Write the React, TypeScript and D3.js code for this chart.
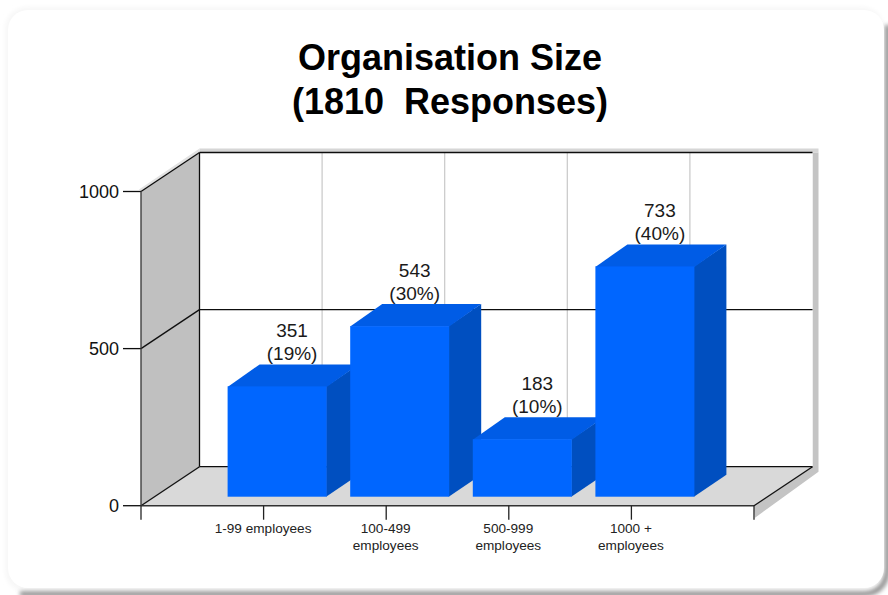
import React from "react";
import * as d3 from "d3";

const categories = [["1-99 employees"], ["100-499", "employees"], ["500-999", "employees"], ["1000 +", "employees"]];
const counts = [351, 543, 183, 733];
const percents = ["(19%)", "(30%)", "(10%)", "(40%)"];
const yTicks = [0, 500, 1000];
const slots = [0, 1, 2, 3, 4, 5];
const titleLines = ["Organisation Size", "(1810  Responses)"];

const W = 888, H = 595;
const x = d3.scaleLinear().domain([0, 5]).range([141, 754]);
const y = d3.scaleLinear().domain([0, 1000]).range([505.7, 191.5]);
const DX = 58.5, DY = -39;
const BAR_OX = 13.5, BAR_OY = -9, BAR_W = 99, BAR_DX = 32, BAR_DY = -22;
const font = "'Liberation Sans', Arial, sans-serif";
const poly = (p: number[][]) => (d3.line()(p as [number, number][]) ?? "") + "Z";

export default function App() {
  const x0 = x(0), x5 = x(5), y0 = y(0), yT = y(1000);
  return (
    <svg width={W} height={H} viewBox={`0 0 ${W} ${H}`} style={{ position: "fixed", left: 0, top: 0, display: "block", background: "#fff" }}>
      <defs>
        <filter id="s" x="-5%" y="-5%" width="110%" height="110%">
          <feGaussianBlur stdDeviation="2.2" />
        </filter>
        <filter id="soft" x="-5%" y="-5%" width="110%" height="110%">
          <feGaussianBlur stdDeviation="0.4" />
        </filter>
      </defs>
      <rect x={0} y={0} width={W} height={H} fill="#fff" />
      <rect x={5} y={7} width={879} height={585} rx={22} fill="#f7f7f7" filter="url(#s)" />
      <path d="M 20 594 H 862 Q 885 594 887.5 570 V 25" fill="none" stroke="#8c8c8c" strokeWidth={5} filter="url(#s)" />
      <rect x={8} y={10} width={876} height={578} rx={20} fill="#fff" />

      <g fontFamily={font} fontWeight="bold" fontSize={36} textAnchor="middle" fill="#000">
        {titleLines.map((t, i) => (
          <text key={i} x={450} y={70 + i * 44} xmlSpace="preserve" style={{ whiteSpace: "pre" }}>{t}</text>
        ))}
      </g>

      <g filter="url(#soft)">
        {/* drop shadow of the 3D frame */}
        <path d={poly([[x5 + DX + 6, yT + DY], [x5 + DX + 6, y0 + DY + 5], [x5 + 1, y0 + 12], [x5, y0], [x5 + DX, y0 + DY], [x5 + DX, yT + DY]])} fill="#c4c4c4" />
        <path d={poly([[x0 + DX, yT + DY - 4], [x5 + DX + 6, yT + DY - 4], [x5 + DX + 6, yT + DY], [x0 + DX, yT + DY]])} fill="#d6d6d6" />
        <path d={poly([[x0 - 2, yT - 2], [x0 + DX, yT + DY - 4], [x0 + DX, yT + DY], [x0, yT]])} fill="#e2e2e2" />

        {/* walls */}
        <rect x={x0 + DX} y={yT + DY} width={x5 - x0} height={y0 - yT} fill="#fff" />
        <path d={poly([[x0, y0], [x0, yT], [x0 + DX, yT + DY], [x0 + DX, y0 + DY]])} fill="#c0c0c0" />
        <path d={poly([[x0, y0], [x5, y0], [x5 + DX, y0 + DY], [x0 + DX, y0 + DY]])} fill="#d9d9d9" />

        {/* vertical gridlines on back wall */}
        {slots.slice(1, 5).map((s) => (
          <line key={s} x1={x(s) + DX} x2={x(s) + DX} y1={yT + DY} y2={y0 + DY} stroke="#c8c8c8" strokeWidth={1.2} />
        ))}

        {/* horizontal gridlines + side-wall */}
        {yTicks.map((t) => (
          <g key={t} stroke="#111" strokeWidth={1.3} fill="none">
            <line x1={x0 + DX} x2={x5 + DX} y1={y(t) + DY} y2={y(t) + DY} />
            <line x1={x0} x2={x0 + DX} y1={y(t)} y2={y(t) + DY} />
            <line x1={x0 - 18} x2={x0} y1={y(t)} y2={y(t)} />
          </g>
        ))}
        <line x1={x0 + DX} x2={x0 + DX} y1={yT + DY} y2={y0 + DY} stroke="#111" strokeWidth={1.3} />
        <line x1={x0} x2={x0} y1={yT} y2={y0} stroke="#333" strokeWidth={1.3} />

        {/* floor front edge */}
        <line x1={x0} x2={x5} y1={y0} y2={y0} stroke="#333" strokeWidth={1.5} />
        <line x1={x5} x2={x5 + DX} y1={y0} y2={y0 + DY} stroke="#111" strokeWidth={1.3} />
        {slots.map((s) => (
          <line key={s} x1={x(s)} x2={x(s)} y1={y0} y2={y0 + 14} stroke="#222" strokeWidth={1.3} />
        ))}

        {/* bars */}
        {counts.map((v, i) => {
          const l = x(i + 1) - BAR_W / 2 + BAR_OX, r = l + BAR_W;
          const b = y(0) + BAR_OY, t = y(v) + BAR_OY;
          return (
            <g key={i}>
              <path d={poly([[r - 0.5, b], [r + BAR_DX, b + BAR_DY], [r + BAR_DX, t + BAR_DY], [r - 0.5, t]])} fill="#0050c0" />
              <path d={poly([[l, t + 0.5], [l + BAR_DX, t + BAR_DY], [r + BAR_DX, t + BAR_DY], [r, t + 0.5]])} fill="#005ce6" />
              <rect x={l} y={t} width={BAR_W} height={b - t} fill="#0066ff" />
            </g>
          );
        })}
      </g>

      {/* value labels */}
      <g fontFamily={font} fontSize={19} textAnchor="middle" fill="#1a1a1a">
        {counts.map((v, i) => {
          const cx = x(i + 1) + BAR_OX + 15;
          const t = y(v) + BAR_OY + BAR_DY;
          return (
            <g key={i}>
              <text x={cx} y={t - 27.5}>{v}</text>
              <text x={cx} y={t - 4}>{percents[i]}</text>
            </g>
          );
        })}
      </g>

      {/* y tick labels */}
      <g fontFamily={font} fontSize={18} textAnchor="end" fill="#111">
        {yTicks.map((t) => (
          <text key={t} x={119} y={y(t) + 6}>{t}</text>
        ))}
      </g>

      {/* category labels */}
      <g fontFamily={font} fontSize={13.6} textAnchor="middle" fill="#222">
        {categories.map((lines, i) =>
          lines.map((ln, j) => (
            <text key={j + "-" + i} x={x(i + 1) - 0.5} y={533 + j * 16.5}>{ln}</text>
          ))
        )}
      </g>
    </svg>
  );
}
